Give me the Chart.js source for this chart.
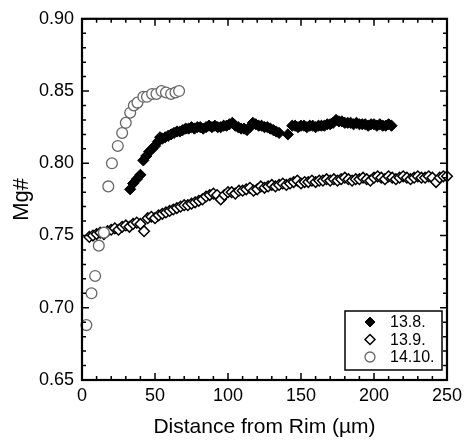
<!DOCTYPE html>
<html>
<head>
<meta charset="utf-8">
<script src="https://cdn.jsdelivr.net/npm/chart.js@4.4.1/dist/chart.umd.min.js"></script>
<style>
  body { margin: 0; background: #fff; }
  #wrap { width: 472px; height: 441px; position: relative; }
</style>
</head>
<body>
<div id="wrap"><canvas id="chart"></canvas></div>
<script>
// axis setup
const xTitle = 'Distance from Rim (\u00b5m)';
const yTitle = 'Mg#';
const xRange = [0, 250];
const yRange = [0.65, 0.90];

// 13.8. (filled diamonds)
const x138 = [33, 35, 37.5, 40, 42, 44, 46, 48, 50, 52, 53.5, 55, 57, 59, 61, 63, 65, 67, 69, 71,
  73, 75, 77, 79, 81, 83, 85, 87, 89, 91, 93, 95, 97, 99, 101, 103, 105, 107, 109, 111,
  113, 115, 117, 119, 121, 123, 125, 127, 129, 131, 133, 135, 141, 144, 146, 148, 150, 152, 154, 156,
  158, 160, 162, 164, 166, 168, 170, 172, 174, 176, 178, 180, 182, 184, 186, 188, 190, 192, 194, 196,
  198, 200, 202, 204, 206, 208, 210, 212];
const y138 = [0.782, 0.786, 0.789, 0.792, 0.802, 0.805, 0.808, 0.810, 0.812, 0.815, 0.818, 0.817, 0.818, 0.819, 0.820, 0.821, 0.822, 0.822, 0.823, 0.824,
  0.824, 0.825, 0.824, 0.825, 0.825, 0.824, 0.825, 0.826, 0.825, 0.826, 0.825, 0.825, 0.826, 0.826, 0.827, 0.828, 0.826, 0.825, 0.824, 0.824,
  0.823, 0.825, 0.828, 0.827, 0.826, 0.826, 0.825, 0.825, 0.824, 0.823, 0.822, 0.821, 0.820, 0.826, 0.826, 0.825, 0.826, 0.826, 0.825, 0.826,
  0.826, 0.825, 0.826, 0.826, 0.826, 0.827, 0.827, 0.828, 0.830, 0.829, 0.829, 0.828, 0.828, 0.828, 0.827, 0.828, 0.827, 0.827, 0.827, 0.826,
  0.827, 0.827, 0.826, 0.827, 0.826, 0.826, 0.827, 0.826];

// 13.9. (open diamonds)
const x139 = [5, 7.5, 10, 12.5, 15, 17.5, 20, 22.5, 25, 27.5, 30, 32.5, 35, 37.5, 40, 42.5, 45, 47.5, 50, 52.5,
  55, 57.5, 60, 62.5, 65, 67.5, 70, 72.5, 75, 77.5, 80, 82.5, 85, 87.5, 90, 92.5, 95, 97.5, 100, 102.5,
  105, 107.5, 110, 112.5, 115, 117.5, 120, 122.5, 125, 127.5, 130, 132.5, 135, 137.5, 140, 142.5, 145, 147.5, 150, 152.5,
  155, 157.5, 160, 162.5, 165, 167.5, 170, 172.5, 175, 177.5, 180, 182.5, 185, 187.5, 190, 192.5, 195, 197.5, 200, 202.5,
  205, 207.5, 210, 212.5, 215, 217.5, 220, 222.5, 225, 227.5, 230, 232.5, 235, 237.5, 240, 242.5, 245, 247.5, 250];
const y139 = [0.749, 0.750, 0.751, 0.752, 0.751, 0.753, 0.754, 0.755, 0.754, 0.756, 0.757, 0.756, 0.758, 0.759, 0.758, 0.753, 0.762, 0.763, 0.762, 0.764,
  0.765, 0.766, 0.767, 0.768, 0.769, 0.770, 0.771, 0.771, 0.772, 0.773, 0.774, 0.775, 0.777, 0.778, 0.779, 0.778, 0.775, 0.778, 0.780, 0.780,
  0.779, 0.781, 0.781, 0.782, 0.783, 0.781, 0.782, 0.784, 0.783, 0.784, 0.785, 0.784, 0.785, 0.786, 0.785, 0.786, 0.787, 0.788, 0.786, 0.787,
  0.787, 0.788, 0.787, 0.788, 0.788, 0.789, 0.788, 0.789, 0.788, 0.789, 0.790, 0.789, 0.788, 0.789, 0.789, 0.790, 0.789, 0.788, 0.790, 0.791,
  0.790, 0.789, 0.791, 0.790, 0.789, 0.790, 0.791, 0.790, 0.789, 0.790, 0.791, 0.790, 0.790, 0.791, 0.790, 0.787, 0.790, 0.791, 0.791];

// 14.10. (open circles)
const x1410 = [3, 6.5, 9, 11.5, 15, 18, 20.5, 24.5, 27.5, 30, 33, 35.5, 38, 42, 44.5, 48, 51, 54.5, 57.5, 61, 64, 66.5];
const y1410 = [0.688, 0.710, 0.722, 0.743, 0.752, 0.784, 0.800, 0.812, 0.821, 0.828, 0.835, 0.840, 0.842, 0.846, 0.846, 0.848, 0.848, 0.850, 0.849, 0.848, 0.849, 0.850];

const FONT = "'Liberation Sans', Arial, Helvetica, sans-serif";
const pts = (xs, ys) => xs.map((x, i) => ({ x, y: ys[i] }));

// frame + inward ticks on all four sides
const frameTicks = {
  id: 'frameTicks',
  afterDatasetsDraw(chart) {
    const { ctx, chartArea: a, scales: { x, y } } = chart;
    ctx.save();
    ctx.strokeStyle = '#000';
    ctx.lineWidth = 1.5;
    ctx.beginPath();
    x.ticks.forEach(t => {
      const px = x.getPixelForValue(t.value);
      const len = Math.round(t.value) % 50 === 0 ? 7 : 4;
      ctx.moveTo(px, a.bottom); ctx.lineTo(px, a.bottom - len);
      ctx.moveTo(px, a.top); ctx.lineTo(px, a.top + len);
    });
    y.ticks.forEach(t => {
      const py = y.getPixelForValue(t.value);
      const len = Math.round(t.value * 100) % 5 === 0 ? 7 : 4;
      ctx.moveTo(a.left, py); ctx.lineTo(a.left + len, py);
      ctx.moveTo(a.right, py); ctx.lineTo(a.right - len, py);
    });
    ctx.stroke();
    ctx.lineWidth = 2.2;
    ctx.strokeRect(a.left, a.top, a.right - a.left, a.bottom - a.top);
    ctx.restore();
  }
};

function marker(ctx, style, cx, cy, r) {
  ctx.beginPath();
  if (style === 'circle') ctx.arc(cx, cy, r, 0, Math.PI * 2);
  else { ctx.moveTo(cx, cy - r); ctx.lineTo(cx + r, cy); ctx.lineTo(cx, cy + r); ctx.lineTo(cx - r, cy); ctx.closePath(); }
}

// boxed legend in the lower right corner
const boxLegend = {
  id: 'boxLegend',
  afterDraw(chart) {
    const { ctx, chartArea: a } = chart;
    const w = 97, h = 59;
    const left = a.right - 5 - w, top = a.bottom - 10 - h;
    ctx.save();
    ctx.fillStyle = '#fff';
    ctx.fillRect(left, top, w, h);
    ctx.strokeStyle = '#000';
    ctx.lineWidth = 1.5;
    ctx.strokeRect(left, top, w, h);
    ctx.font = '16px ' + FONT;
    ctx.textBaseline = 'middle';
    chart.data.datasets.forEach((ds, i) => {
      const cy = top + 11 + i * 17.5;
      marker(ctx, ds.pointStyle, left + 25, cy, 5);
      ctx.fillStyle = ds.pointBackgroundColor;
      ctx.fill();
      ctx.lineWidth = ds.pointBorderWidth;
      ctx.strokeStyle = ds.pointBorderColor;
      ctx.stroke();
      ctx.fillStyle = '#000';
      ctx.fillText(ds.label, left + 45, cy + 1);
    });
    ctx.restore();
  }
};

new Chart(document.getElementById('chart'), {
  type: 'scatter',
  data: {
    datasets: [
      { label: '13.8.', data: pts(x138, y138), pointStyle: 'rectRot', pointRadius: 5.6,
        pointBackgroundColor: '#000', pointBorderColor: '#000', pointBorderWidth: 1, order: 2, clip: false },
      { label: '13.9.', data: pts(x139, y139), pointStyle: 'rectRot', pointRadius: 5.3,
        pointBackgroundColor: '#fff', pointBorderColor: '#000', pointBorderWidth: 1.5, order: 1, clip: false },
      { label: '14.10.', data: pts(x1410, y1410), pointStyle: 'circle', pointRadius: 5.4,
        pointBackgroundColor: '#fff', pointBorderColor: '#666', pointBorderWidth: 1.3, order: 0, clip: false }
    ]
  },
  options: {
    responsive: true,
    maintainAspectRatio: false,
    animation: false,
    layout: { padding: { top: 17, right: 25, left: 0, bottom: 0 } },
    plugins: { legend: { display: false }, tooltip: { enabled: false } },
    scales: {
      x: {
        type: 'linear', min: xRange[0], max: xRange[1],
        grid: { display: false, drawTicks: false }, border: { display: false },
        ticks: { stepSize: 10, autoSkip: false, maxRotation: 0, padding: 5, color: '#000',
          font: { family: FONT, size: 18 },
          callback: v => Math.round(v) % 50 === 0 ? String(Math.round(v)) : '' },
        title: { display: true, text: xTitle, color: '#000', font: { family: FONT, size: 21 }, padding: { top: 0, bottom: 1 } },
        afterFit: s => { s.height = 61; }
      },
      y: {
        type: 'linear', min: yRange[0], max: yRange[1],
        grid: { display: false, drawTicks: false }, border: { display: false },
        ticks: { stepSize: 0.01, autoSkip: false, maxTicksLimit: 100, padding: 8, color: '#000',
          font: { family: FONT, size: 18 },
          callback: v => { const r = Math.round(v * 100); return r % 5 === 0 ? (r / 100).toFixed(2) : ''; } },
        title: { display: true, text: yTitle, color: '#000', font: { family: FONT, size: 22 }, padding: { top: 9, bottom: 0 } },
        afterFit: s => { s.width = 82; }
      }
    }
  },
  plugins: [frameTicks, boxLegend]
});
</script>
</body>
</html>
